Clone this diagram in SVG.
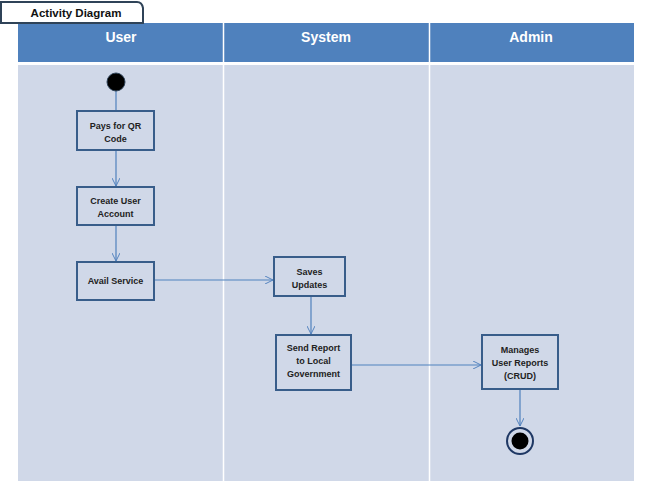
<svg xmlns="http://www.w3.org/2000/svg" width="645" height="494" viewBox="0 0 645 494">
<defs>
<style>
.hdr{fill:#4f81bd}
.hdrt{font-family:"Liberation Sans",Arial,sans-serif;font-size:14px;font-weight:bold;fill:#fff;text-anchor:middle}
.lane{fill:#d0d8e8}
.box{fill:#d0d8e8;stroke:#385d8a;stroke-width:2}
.t{font-family:"Liberation Sans",Arial,sans-serif;font-size:9px;font-weight:bold;fill:#222;text-anchor:middle}
.c{stroke:#4f81bd;stroke-width:1.2;fill:none}
</style>
<marker id="ah" viewBox="0 0 10 10" refX="10" refY="5" markerWidth="8" markerHeight="8" orient="auto" markerUnits="userSpaceOnUse">
<path d="M0,0 L10,5 L0,10" fill="none" stroke="#4f81bd" stroke-width="1.2"/>
</marker>
</defs>
<rect width="645" height="494" fill="#fff"/>
<g id="lanes">
<rect class="hdr" x="18" y="23" width="616" height="39"/>
<rect class="lane" x="18" y="65" width="616" height="416"/>
<line x1="223.5" y1="23" x2="223.5" y2="481" stroke="#fff" stroke-width="1.5"/>
<line x1="429.5" y1="23" x2="429.5" y2="481" stroke="#fff" stroke-width="1.5"/>
<text class="hdrt" x="121" y="42">User</text>
<text class="hdrt" x="326" y="42">System</text>
<text class="hdrt" x="531" y="42">Admin</text>
</g>
<g id="title">
<path d="M1,23 L1,2 L137,2 Q142,2 143,8 L143,23 Z" fill="#fff" stroke="#2f4358" stroke-width="2"/>
<text x="76" y="17" font-family="Liberation Sans,Arial,sans-serif" font-size="11.5" font-weight="bold" fill="#111" text-anchor="middle">Activity Diagram</text>
</g>
<g id="connectors">
<line class="c" x1="116" y1="91" x2="116" y2="111"/>
<line class="c" x1="116" y1="150" x2="116" y2="186" marker-end="url(#ah)"/>
<line class="c" x1="116" y1="225" x2="116" y2="261" marker-end="url(#ah)"/>
<line class="c" x1="154" y1="280" x2="273" y2="280" marker-end="url(#ah)"/>
<line class="c" x1="311" y1="296" x2="311" y2="334" marker-end="url(#ah)"/>
<line class="c" x1="351" y1="365" x2="481" y2="365" marker-end="url(#ah)"/>
<line class="c" x1="520" y1="389" x2="520" y2="426" marker-end="url(#ah)"/>
</g>
<g id="start">
<circle cx="116" cy="82" r="9" fill="#000" stroke="#2f4358" stroke-width="1"/>
</g>
<g id="n1">
<rect class="box" x="77" y="111" width="77" height="39"/>
<text class="t" x="115.5" y="129">Pays for QR</text>
<text class="t" x="115.5" y="142">Code</text>
</g>
<g id="n2">
<rect class="box" x="77" y="187" width="77" height="38"/>
<text class="t" x="115.5" y="204">Create User</text>
<text class="t" x="115.5" y="217">Account</text>
</g>
<g id="n3">
<rect class="box" x="77" y="262" width="77" height="38"/>
<text class="t" x="115.5" y="284">Avail Service</text>
</g>
<g id="n4">
<rect class="box" x="274" y="257" width="71" height="39"/>
<text class="t" x="309.5" y="275">Saves</text>
<text class="t" x="309.5" y="288">Updates</text>
</g>
<g id="n5">
<rect class="box" x="276" y="335" width="75" height="55"/>
<text class="t" x="313.5" y="351">Send Report</text>
<text class="t" x="313.5" y="364">to Local</text>
<text class="t" x="313.5" y="377">Government</text>
</g>
<g id="n6">
<rect class="box" x="482" y="335" width="76" height="54"/>
<text class="t" x="520" y="353">Manages</text>
<text class="t" x="520" y="366">User Reports</text>
<text class="t" x="520" y="379">(CRUD)</text>
</g>
<g id="end">
<circle cx="520" cy="441" r="13" fill="#d0d8e8" stroke="#1f3864" stroke-width="2"/>
<circle cx="520" cy="441" r="8.5" fill="#000"/>
</g>
</svg>
